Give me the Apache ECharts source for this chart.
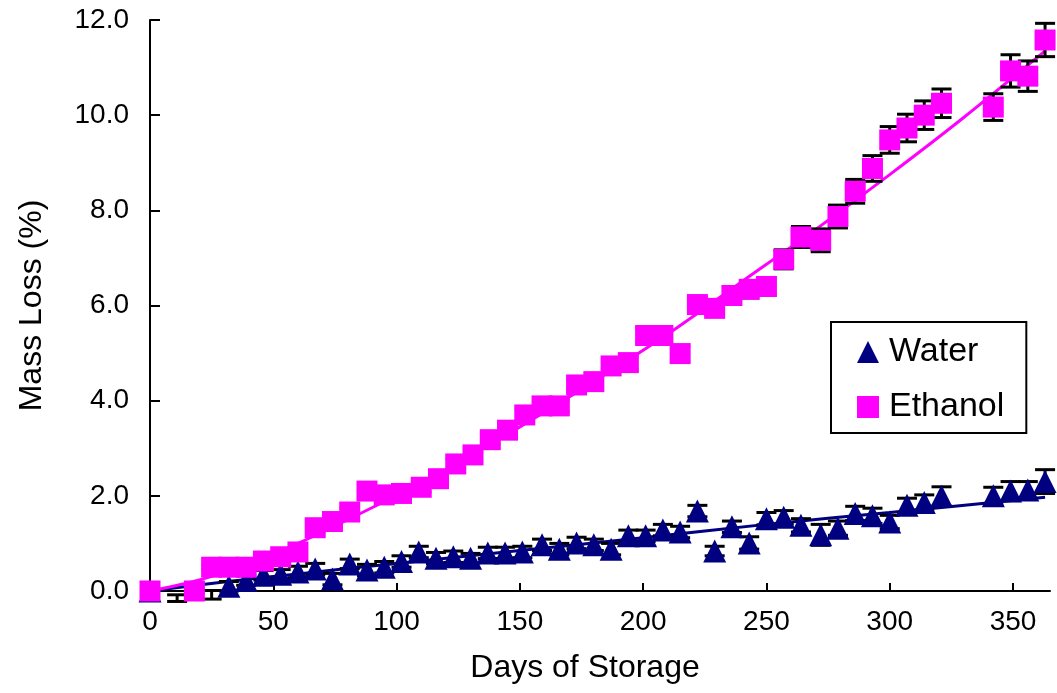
<!DOCTYPE html>
<html>
<head>
<meta charset="utf-8">
<title>Mass loss during storage</title>
<script src="https://cdn.jsdelivr.net/npm/echarts@6/dist/echarts.min.js"></script>
<style>
  html, body { margin: 0; padding: 0; background: #fff; }
  #chart { width: 1057px; height: 693px; }
</style>
</head>
<body>
<div id="chart"></div>
<script>
// values
const waterDays = [0, 11, 25, 32, 39, 46, 53, 60, 67, 74, 81, 88, 95, 102, 109, 116, 123, 130, 137, 144, 151, 159, 166, 173, 180, 187, 194, 201, 208, 215, 222, 229, 236, 243, 250, 257, 264, 272, 279, 286, 293, 300, 307, 314, 321, 342, 349, 356, 363];
const waterLoss = [0.0, -0.15, -0.08, 0.1, 0.22, 0.33, 0.35, 0.4, 0.46, 0.25, 0.57, 0.44, 0.5, 0.62, 0.82, 0.69, 0.72, 0.69, 0.8, 0.8, 0.82, 0.97, 0.88, 1.01, 0.97, 0.88, 1.16, 1.16, 1.28, 1.24, 1.68, 0.84, 1.35, 1.01, 1.52, 1.55, 1.38, 1.18, 1.32, 1.63, 1.58, 1.45, 1.8, 1.86, 1.99, 2.0, 2.1, 2.12, 2.3];
const waterErr = [0.05, 0.07, 0.09, 0.1, 0.1, 0.1, 0.1, 0.12, 0.12, 0.12, 0.1, 0.12, 0.12, 0.12, 0.12, 0.12, 0.12, 0.1, 0.12, 0.12, 0.12, 0.12, 0.12, 0.12, 0.12, 0.12, 0.12, 0.12, 0.12, 0.12, 0.12, 0.1, 0.12, 0.13, 0.13, 0.14, 0.14, 0.22, 0.15, 0.15, 0.16, 0.14, 0.15, 0.16, 0.2, 0.18, 0.2, 0.18, 0.25];

const ethanolDays = [0, 18, 25, 32, 39, 46, 53, 60, 67, 74, 81, 88, 95, 102, 110, 117, 124, 131, 138, 145, 152, 159, 166, 173, 180, 187, 194, 201, 208, 215, 222, 229, 236, 243, 250, 257, 264, 272, 279, 286, 293, 300, 307, 314, 321, 342, 349, 356, 363];
const ethanolLoss = [0.0, 0.0, 0.5, 0.5, 0.5, 0.63, 0.72, 0.82, 1.33, 1.46, 1.66, 2.1, 2.02, 2.05, 2.18, 2.36, 2.67, 2.86, 3.18, 3.38, 3.7, 3.89, 3.89, 4.33, 4.4, 4.73, 4.8, 5.37, 5.37, 4.99, 6.02, 5.94, 6.21, 6.34, 6.4, 6.97, 7.44, 7.37, 7.87, 8.4, 8.88, 9.48, 9.73, 10.0, 10.25, 10.17, 10.93, 10.82, 11.58];
const ethanolErr = [0.05, 0.05, 0.05, 0.05, 0.05, 0.05, 0.05, 0.05, 0.08, 0.08, 0.08, 0.1, 0.1, 0.1, 0.1, 0.1, 0.1, 0.1, 0.1, 0.12, 0.12, 0.12, 0.12, 0.12, 0.12, 0.15, 0.15, 0.15, 0.15, 0.15, 0.15, 0.15, 0.18, 0.18, 0.18, 0.2, 0.22, 0.24, 0.24, 0.25, 0.27, 0.28, 0.29, 0.3, 0.3, 0.28, 0.34, 0.32, 0.35];

// trend lines, read at a few days along each drawn curve
const waterTrendDays = [0, 30, 60, 100, 150, 200, 250, 300, 363];
const waterTrendLoss = [0.0, 0.19, 0.36, 0.58, 0.85, 1.12, 1.4, 1.65, 1.97];
const ethanolTrendDays = [0, 20, 40, 60, 90, 120, 150, 180, 210, 240, 270, 300, 330, 363];
const ethanolTrendLoss = [0.0, 0.23, 0.58, 1.0, 1.75, 2.55, 3.45, 4.4, 5.4, 6.5, 7.6, 8.75, 9.95, 11.35];

const xTicks = [0, 50, 100, 150, 200, 250, 300, 350];

const FONT = "Liberation Sans, Arial, Helvetica, sans-serif";

function zip(xs, ys) {
  return xs.map((x, i) => [x, ys[i]]);
}

function errorRows(xs, ys, es) {
  return xs.map((x, i) => [x, ys[i] - es[i], ys[i] + es[i]]);
}

function renderErrorBar(params, api) {
  let x = api.value(0);
  let top = api.coord([x, api.value(2)]);
  let bot = api.coord([x, api.value(1)]);
  let half = 10;
  let style = { stroke: "#000", lineWidth: 3 };
  return {
    type: "group",
    children: [
      { type: "line", shape: { x1: top[0], y1: top[1], x2: bot[0], y2: bot[1] }, style: style },
      { type: "line", shape: { x1: top[0] - half, y1: top[1], x2: top[0] + half, y2: top[1] }, style: style },
      { type: "line", shape: { x1: bot[0] - half, y1: bot[1], x2: bot[0] + half, y2: bot[1] }, style: style },
    ],
  };
}

let myChart = echarts.init(document.getElementById("chart"));

let option = {
  animation: false,
  backgroundColor: "#fff",
  textStyle: { fontFamily: FONT, color: "#000" },
  grid: { left: 150, right: 7, top: 20, bottom: 102 },
  legend: {
    data: ["Water", "Ethanol"],
    orient: "vertical",
    left: 831,
    top: 322,
    padding: [13, 22, 9, 26],
    itemGap: 21,
    itemWidth: 22,
    itemHeight: 22,
    borderColor: "#000",
    borderWidth: 2,
    textStyle: { fontFamily: FONT, fontSize: 34, color: "#000", padding: [0, 0, 0, 5] },
  },
  xAxis: {
    type: "value",
    min: 0,
    max: 365,
    name: "Days of Storage",
    nameLocation: "middle",
    nameGap: 61,
    nameTextStyle: { fontFamily: FONT, fontSize: 32, color: "#000", padding: [0, 30, 0, 0] },
    splitLine: { show: false },
    axisLine: { lineStyle: { color: "#000", width: 2 } },
    axisTick: { inside: true, length: 8, lineStyle: { color: "#000", width: 2 }, customValues: xTicks },
    axisLabel: { fontFamily: FONT, fontSize: 28, color: "#000", margin: 17, customValues: xTicks },
  },
  yAxis: {
    type: "value",
    min: 0,
    max: 12,
    interval: 2,
    name: "Mass Loss (%)",
    nameLocation: "middle",
    nameGap: 102,
    nameTextStyle: { fontFamily: FONT, fontSize: 32, color: "#000" },
    splitLine: { show: false },
    axisLine: { show: true, lineStyle: { color: "#000", width: 2 } },
    axisTick: { show: true, inside: true, length: 10, lineStyle: { color: "#000", width: 2 } },
    axisLabel: {
      fontFamily: FONT,
      fontSize: 28,
      color: "#000",
      margin: 21,
      formatter: function (value) {
        return value.toFixed(1);
      },
    },
  },
  series: [
    {
      name: "Water fit",
      type: "line",
      data: zip(waterTrendDays, waterTrendLoss),
      showSymbol: false,
      smooth: 0.3,
      lineStyle: { color: "#000080", width: 3 },
      z: 1,
    },
    {
      name: "Ethanol fit",
      type: "line",
      data: zip(ethanolTrendDays, ethanolTrendLoss),
      showSymbol: false,
      smooth: 0.3,
      lineStyle: { color: "#ff00ff", width: 3 },
      z: 1,
    },
    {
      name: "Water error",
      type: "custom",
      renderItem: renderErrorBar,
      data: errorRows(waterDays, waterLoss, waterErr),
      encode: { x: 0, y: [1, 2] },
      z: 2,
    },
    {
      name: "Ethanol error",
      type: "custom",
      renderItem: renderErrorBar,
      data: errorRows(ethanolDays, ethanolLoss, ethanolErr),
      encode: { x: 0, y: [1, 2] },
      z: 2,
    },
    {
      name: "Water",
      type: "scatter",
      symbol: "triangle",
      symbolSize: 23,
      data: zip(waterDays, waterLoss),
      itemStyle: { color: "#000080", opacity: 1 },
      clip: true,
      z: 3,
    },
    {
      name: "Ethanol",
      type: "scatter",
      symbol: "rect",
      symbolSize: 21,
      data: zip(ethanolDays, ethanolLoss),
      itemStyle: { color: "#ff00ff", opacity: 1 },
      clip: true,
      z: 4,
    },
  ],
};

option && myChart.setOption(option);
</script>
</body>
</html>
